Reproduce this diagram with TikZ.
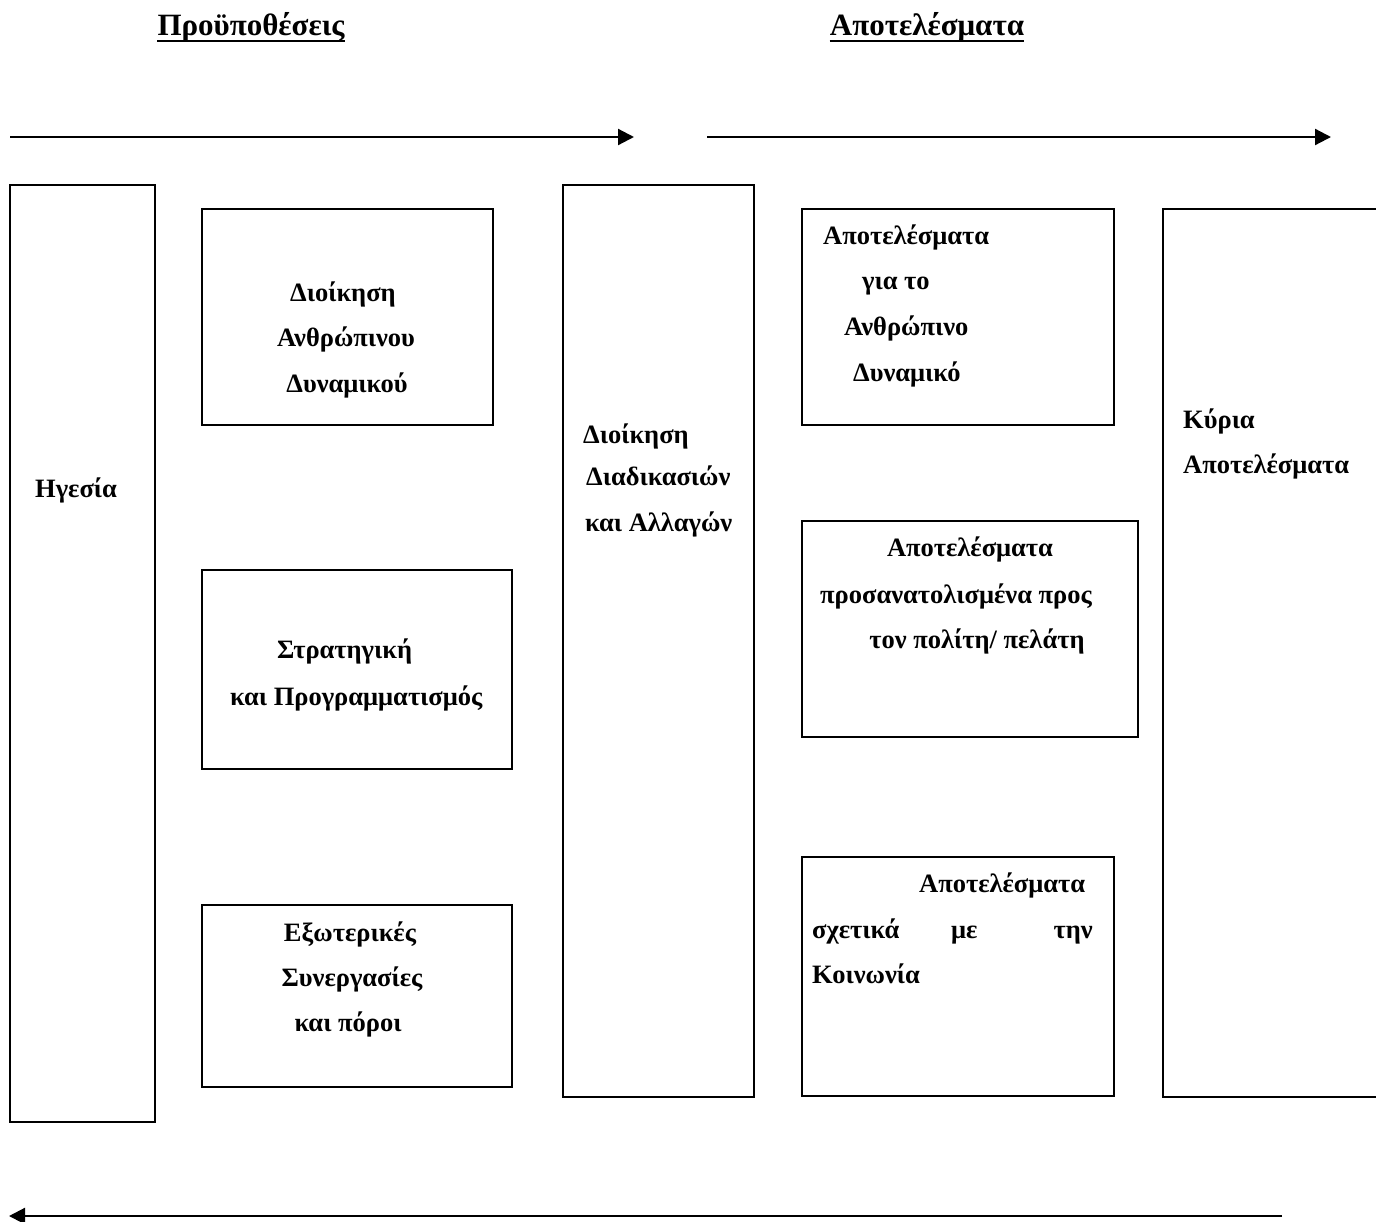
\documentclass[tikz,border=0pt]{standalone}
\usepackage{fontspec}
\setmainfont{Liberation Serif}
\usetikzlibrary{arrows.meta}
\begin{document}
\begin{tikzpicture}[x=1pt,y=-1pt,
  box/.style={draw, line width=2pt, inner sep=0pt, outer sep=0pt, anchor=north west},
  lbl/.style={font=\fontsize{26.5}{30}\selectfont\bfseries, inner sep=0pt, anchor=base west},
  clbl/.style={lbl, anchor=base},
  ttl/.style={font=\fontsize{31}{36}\selectfont\bfseries, inner sep=0pt, anchor=base},
  arr/.style={line width=2.2pt, -{Triangle[length=16pt,width=16pt]}}]
\useasboundingbox (0,0) rectangle (1376,1221);
% titles
\node[ttl] (t1) at (251,35) {Προϋποθέσεις};
\node[ttl] (t2) at (927,35) {Αποτελέσματα};
\draw[line width=2.8pt] ([yshift=-6pt]t1.base west) -- ([yshift=-6pt]t1.base east);
\draw[line width=2.8pt] ([yshift=-6pt]t2.base west) -- ([yshift=-6pt]t2.base east);
% arrows
\coordinate (a1s) at (10,137); \coordinate (a1e) at (634,137);
\coordinate (a2s) at (707,137); \coordinate (a2e) at (1331,137);
\coordinate (a3s) at (1282,1216); \coordinate (a3e) at (9,1216);
\draw[arr] (a1s) -- (a1e);
\draw[arr] (a2s) -- (a2e);
\draw[arr] (a3s) -- (a3e);
% boxes
\node[box, minimum width=145pt, minimum height=937pt] (hg) at (10,185) {};
\node[box, minimum width=291pt, minimum height=216pt] (da) at (202,209) {};
\node[box, minimum width=310pt, minimum height=199pt] (st) at (202,570) {};
\node[box, minimum width=310pt, minimum height=182pt] (ex) at (202,905) {};
\node[box, minimum width=191pt, minimum height=912pt] (dd) at (563,185) {};
\node[box, minimum width=312pt, minimum height=216pt] (r1) at (802,209) {};
\node[box, minimum width=336pt, minimum height=216pt] (r2) at (802,521) {};
\node[box, minimum width=312pt, minimum height=239pt] (r3) at (802,857) {};
\node[box, minimum width=240pt, minimum height=888pt] (ky) at (1163,209) {};
% texts
\node[lbl] (hgt) at (35,497) {Ηγεσία};
\node[clbl] (da1) at (343,301) {Διοίκηση};
\node[clbl] (da2) at (346,346) {Ανθρώπινου};
\node[clbl] (da3) at (347,392) {Δυναμικού};
\node[lbl] (st1) at (277,658) {Στρατηγική};
\node[lbl] (st2) at (230,705) {και Προγραμματισμός};
\node[clbl] (ex1) at (350,941) {Εξωτερικές};
\node[clbl] (ex2) at (352,986) {Συνεργασίες};
\node[clbl] (ex3) at (348,1031) {και πόροι};
\node[lbl] (dd1) at (583,443) {Διοίκηση};
\node[lbl] (dd2) at (586,485) {Διαδικασιών};
\node[lbl] (dd3) at (585,531) {και Αλλαγών};
\node[lbl] (r11) at (823,244) {Αποτελέσματα};
\node[lbl] (r12) at (862,289) {για το};
\node[lbl] (r13) at (844,335) {Ανθρώπινο};
\node[lbl] (r14) at (853,381) {Δυναμικό};
\node[clbl] (r21) at (970,556) {Αποτελέσματα};
\node[clbl] (r22) at (956,603) {προσανατολισμένα προς};
\node[clbl] (r23) at (977,648) {τον πολίτη/ πελάτη};
\node[lbl] (r31) at (919,892) {Αποτελέσματα};
\node[lbl] (r32a) at (812,938) {σχετικά};
\node[lbl] (r32b) at (951,938) {με};
\node[lbl, anchor=base east] (r32c) at (1093,938) {την};
\node[lbl] (r33) at (812,983) {Κοινωνία};
\node[lbl] (ky1) at (1183,428) {Κύρια};
\node[lbl] (ky2) at (1183,473) {Αποτελέσματα};
\end{tikzpicture}
\end{document}
